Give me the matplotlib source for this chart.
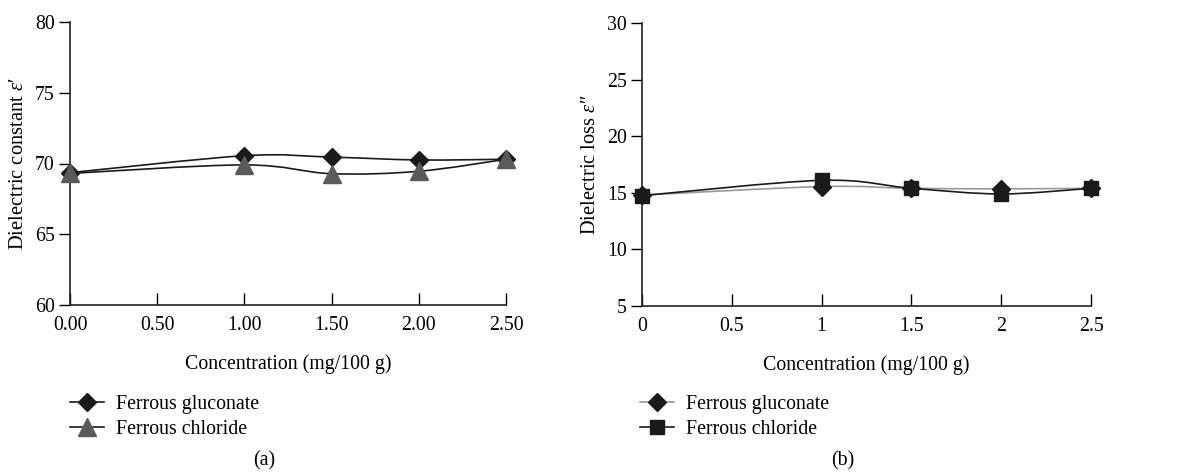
import numpy as np
import matplotlib

matplotlib.use("Agg")
import matplotlib.pyplot as plt
from matplotlib.path import Path
from matplotlib.patches import PathPatch
from matplotlib.lines import Line2D

plt.rcParams["font.family"] = "Liberation Serif"
plt.rcParams["font.size"] = 14.3
plt.rcParams["mathtext.fontset"] = "custom"
plt.rcParams["mathtext.rm"] = "Liberation Serif"
plt.rcParams["mathtext.it"] = "Liberation Serif:italic"

conc = [0.0, 1.0, 1.5, 2.0, 2.5]

# (a) dielectric constant
a_gluconate = [69.35, 70.55, 70.45, 70.25, 70.3]
a_chloride = [69.3, 69.9, 69.28, 69.45, 70.3]

# (b) dielectric loss
b_gluconate = [14.8, 15.55, 15.4, 15.35, 15.4]
b_chloride = [14.75, 16.1, 15.4, 14.9, 15.4]

x_ticks = [0, 0.5, 1.0, 1.5, 2.0, 2.5]
a_xlabels = ["0.00", "0.50", "1.00", "1.50", "2.00", "2.50"]
b_xlabels = ["0", "0.5", "1", "1.5", "2", "2.5"]


def smooth_path(x, y, t=1 / 6):
    # smoothed line like the spreadsheet one, as cubic bezier segments
    x = np.asarray(x, float)
    y = np.asarray(y, float)
    n = len(x)
    verts = [(x[0], y[0])]
    codes = [Path.MOVETO]
    for i in range(n - 1):
        p0 = np.array([x[max(i - 1, 0)], y[max(i - 1, 0)]])
        p1 = np.array([x[i], y[i]])
        p2 = np.array([x[i + 1], y[i + 1]])
        p3 = np.array([x[min(i + 2, n - 1)], y[min(i + 2, n - 1)]])
        c1 = p1 + (p2 - p0) * t
        c2 = p2 - (p3 - p1) * t
        verts += [tuple(c1), tuple(c2), tuple(p2)]
        codes += [Path.CURVE4] * 3
    return Path(verts, codes)


def draw_series(ax, x, y, color, lw, marker, ms, mcolor):
    ax.add_patch(PathPatch(smooth_path(x, y), fill=False, edgecolor=color, lw=lw, zorder=2))
    ax.plot(x, y, linestyle="none", marker=marker, markersize=ms, color=mcolor, zorder=3, clip_on=False)


def style_axes(ax):
    for s in ["top", "right"]:
        ax.spines[s].set_visible(False)
    for s in ["left", "bottom"]:
        ax.spines[s].set_linewidth(1.2)
        ax.spines[s].set_color("#222222")
    ax.tick_params(axis="y", direction="out", length=8, width=1.0, pad=3)
    ax.tick_params(axis="x", direction="in", length=9, width=1.0, pad=8)


W, H = 1178, 476
fig = plt.figure(figsize=(W / 100, H / 100), dpi=100)

ax1 = fig.add_axes([70 / W, (H - 305) / H, (506 - 70) / W, (305 - 22) / H])
draw_series(ax1, conc, a_gluconate, "#1a1a1a", 1.2, "D", 9, "#1a1a1a")
draw_series(ax1, conc, a_chloride, "#1a1a1a", 1.2, "^", 12.5, "#5a5a5a")
ax1.set_xlim(0, 2.5)
ax1.set_ylim(60, 80)
ax1.set_xticks(x_ticks)
ax1.set_xticklabels(a_xlabels)
ax1.set_yticks([60, 65, 70, 75, 80])
ax1.set_xlabel("Concentration (mg/100 g)", labelpad=14)
ax1.set_ylabel("Dielectric constant $\\it{ε}$\u2032", labelpad=5, fontsize=14.8)
style_axes(ax1)

ax2 = fig.add_axes([642 / W, (H - 306) / H, (1091 - 642) / W, (306 - 23) / H])
draw_series(ax2, conc, b_gluconate, "#9a9a9a", 1.2, "D", 9, "#1a1a1a")
draw_series(ax2, conc, b_chloride, "#1a1a1a", 1.2, "s", 10.5, "#1a1a1a")
ax2.set_xlim(0, 2.5)
ax2.set_ylim(5, 30)
ax2.set_xticks(x_ticks)
ax2.set_xticklabels(b_xlabels)
ax2.set_yticks([5, 10, 15, 20, 25, 30])
ax2.set_xlabel("Concentration (mg/100 g)", labelpad=14)
ax2.set_ylabel("Dielectric loss $\\it{ε}$\u2033", labelpad=5, fontsize=14.8)
style_axes(ax2)

h1 = [
    Line2D([], [], color="#1a1a1a", lw=1.2, marker="D", markersize=9, markerfacecolor="#1a1a1a", markeredgecolor="#1a1a1a"),
    Line2D([], [], color="#1a1a1a", lw=1.2, marker="^", markersize=12.5, markerfacecolor="#5a5a5a", markeredgecolor="#5a5a5a"),
]
fig.legend(h1, ["Ferrous gluconate", "Ferrous chloride"], loc="upper left",
           bbox_to_anchor=(52 / W, 1 - 377 / H), frameon=False, handlelength=1.7,
           handletextpad=0.6, labelspacing=0.3, fontsize=14.3)

h2 = [
    Line2D([], [], color="#9a9a9a", lw=1.2, marker="D", markersize=9, markerfacecolor="#1a1a1a", markeredgecolor="#1a1a1a"),
    Line2D([], [], color="#1a1a1a", lw=1.2, marker="s", markersize=10.5, markerfacecolor="#1a1a1a", markeredgecolor="#1a1a1a"),
]
fig.legend(h2, ["Ferrous gluconate", "Ferrous chloride"], loc="upper left",
           bbox_to_anchor=(622 / W, 1 - 377 / H), frameon=False, handlelength=1.7,
           handletextpad=0.6, labelspacing=0.3, fontsize=14.3)

fig.text(264 / W, 1 - 461 / H, "(a)", ha="center", va="center", fontsize=14.3)
fig.text(843 / W, 1 - 461 / H, "(b)", ha="center", va="center", fontsize=14.3)

fig.savefig("out.png", dpi=100)
